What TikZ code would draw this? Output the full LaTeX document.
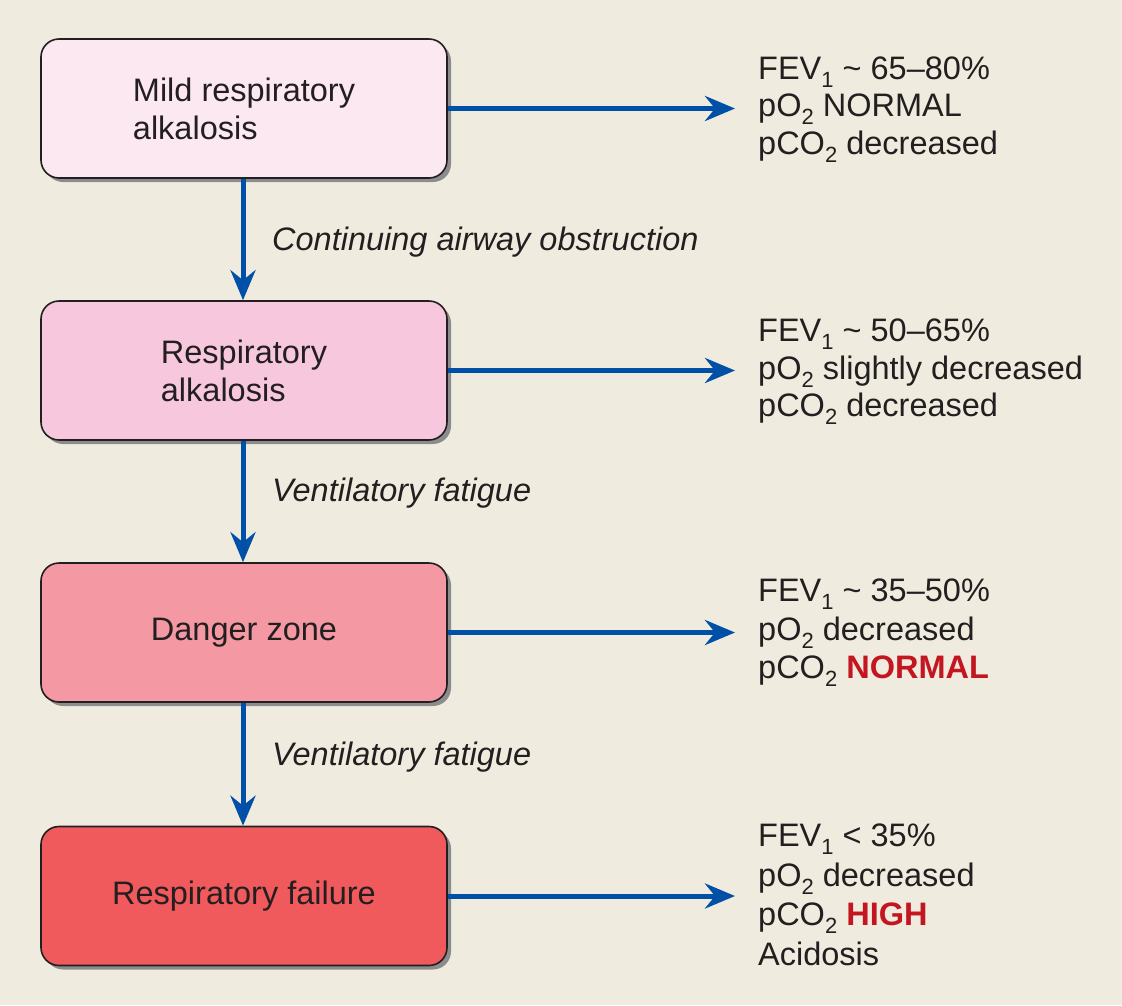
\documentclass[tikz,border=0pt]{standalone}
\usepackage{fontspec}
\setmainfont{Liberation Sans}
\usetikzlibrary{arrows.meta,shadows}
\definecolor{bg}{RGB}{239,236,223}
\definecolor{boxA}{RGB}{252,232,241}
\definecolor{boxB}{RGB}{247,200,221}
\definecolor{boxC}{RGB}{244,152,163}
\definecolor{boxD}{RGB}{240,90,92}
\definecolor{arr}{RGB}{0,80,168}
\definecolor{hot}{RGB}{196,22,32}
\definecolor{ink}{RGB}{35,31,32}
\newcommand\subx[1]{\raisebox{-8pt}{\fontsize{22}{22}\selectfont #1}}
\newcommand\hot[1]{\textcolor{hot}{\textbf{#1}}}
\tikzset{
  stage/.style={draw=ink, line width=1.6pt, rounded corners=18pt, minimum width=406pt, minimum height=139pt,
    align=left, font=\fontsize{32.5}{38}\selectfont, text=ink,
    drop shadow={shadow xshift=4pt, shadow yshift=-4pt, fill=black!45, opacity=1}},
  flow/.style={draw=arr, line width=5pt, -{Stealth[length=30pt,width=25pt,inset=10pt]}},
  info/.style={anchor=north west, inner sep=0pt, align=left, text=ink},
  why/.style={anchor=west, inner sep=0pt, font=\fontsize{32.5}{38}\selectfont\itshape, text=ink}
}
\begin{document}
\begin{tikzpicture}[x=1pt,y=-1pt]
\fill[bg] (0,0) rectangle (1122,1005);
\useasboundingbox (0,0) rectangle (1122,1005);
\node[stage, fill=boxA] (b1) at (244,108.5) {Mild respiratory\\alkalosis};
\node[stage, fill=boxB] (b2) at (244,370.5) {Respiratory\\alkalosis};
\node[stage, fill=boxC] (b3) at (244,632.5) {Danger zone};
\node[stage, fill=boxD] (b4) at (244,896) {Respiratory failure};

\coordinate (t1) at (735,108.5);
\coordinate (t2) at (735,370.5);
\coordinate (t3) at (735,632.5);
\coordinate (t4) at (735,896);
\draw[flow] (b1.east) -- (t1);
\draw[flow] (b2.east) -- (t2);
\draw[flow] (b3.east) -- (t3);
\draw[flow] (b4.east) -- (t4);

\draw[flow] (b1.south -| 243,0) -- (b2.north -| 243,0);
\draw[flow] (b2.south -| 243,0) -- (b3.north -| 243,0);
\draw[flow] (b3.south -| 243,0) -- (b4.north -| 243,0);

\node[why] (w1) at (272,242) {Continuing airway obstruction};
\node[why] (w2) at (272,493) {Ventilatory fatigue};
\node[why] (w3) at (272,757) {Ventilatory fatigue};

\node[info, font=\fontsize{32.5}{37.5}\selectfont] (r1) at (758,56.5) {FEV\subx{1} \textasciitilde\ 65–80\%\\pO\subx{2} NORMAL\\pCO\subx{2} decreased};
\node[info, font=\fontsize{32.5}{37.5}\selectfont] (r2) at (758,319) {FEV\subx{1} \textasciitilde\ 50–65\%\\pO\subx{2} slightly decreased\\pCO\subx{2} decreased};
\node[info, font=\fontsize{32.5}{38.5}\selectfont] (r3) at (758,579) {FEV\subx{1} \textasciitilde\ 35–50\%\\pO\subx{2} decreased\\pCO\subx{2} \hot{NORMAL}};
\node[info, font=\fontsize{32.5}{39.5}\selectfont] (r4) at (758,824) {FEV\subx{1} < 35\%\\pO\subx{2} decreased\\pCO\subx{2} \hot{HIGH}\\Acidosis};
\end{tikzpicture}
\end{document}
